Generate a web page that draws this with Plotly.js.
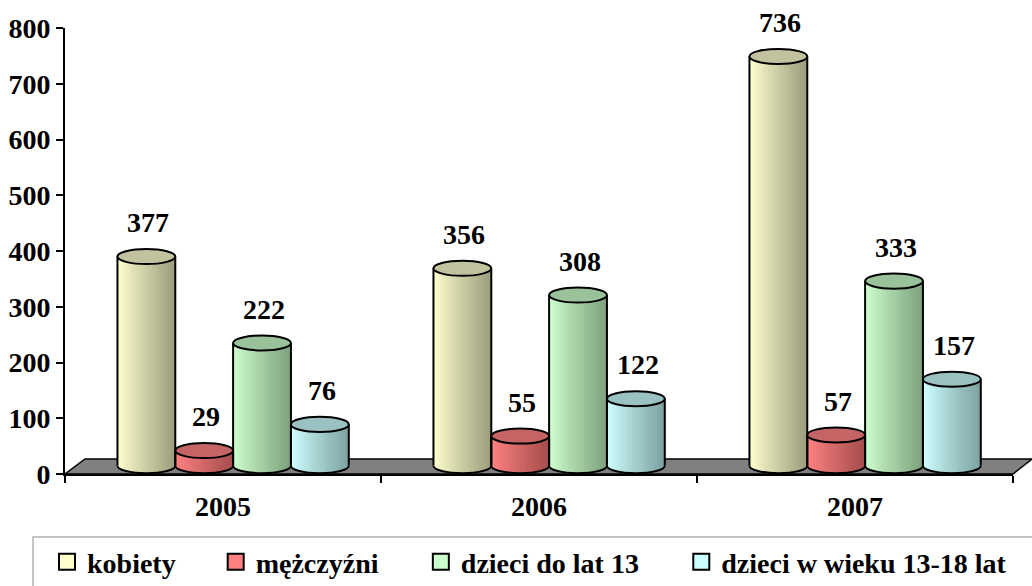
<!DOCTYPE html>
<html><head><meta charset="utf-8">
<script src="https://cdn.plot.ly/plotly-3.0.1.min.js"></script>
<style>html,body{margin:0;padding:0;background:#fff}#chart{width:1032px;height:586px}</style>
</head><body><div id="chart"></div>
<script>
// ---- data ----
const categories = ['2005', '2006', '2007'];
const seriesNames = ['kobiety', 'mężczyźni', 'dzieci do lat 13', 'dzieci w wieku 13-18 lat'];
const kobiety = [377, 356, 736];
const mezczyzni = [29, 55, 57];
const dzieciDo13 = [222, 308, 333];
const dzieci1318 = [76, 122, 157];
const yTickVals = [0, 100, 200, 300, 400, 500, 600, 700, 800];

// ---- styling ----
const series = [kobiety, mezczyzni, dzieciDo13, dzieci1318];
const lightCol = [[255,255,206],[255,130,130],[206,255,206],[206,255,255]];
const darkCol  = [[160,160,128],[168,78,78],[128,164,128],[128,164,164]];
const topCol = ['#c2c29e', '#c46464', '#9ac29a', '#9ac2c2'];
const legendCol = ['#ffffcc', '#ff8080', '#ccffcc', '#ccffff'];
const FONT = 'Liberation Serif';
const W = 0.183, SHIFT = 0.032, N = 18, B = 15, TOP_OFF = 13, H = 13.5, K = 0.5523;
const NB = '\u00a0';
const PLOT_W = 948, PLOT_H = 446, ML = 65, Y0PX = 474;

function mix(a, b, t) {
  return 'rgb(' + a.map((v, i) => Math.round(v + (b[i] - v) * t)).join(',') + ')';
}
function xc(i, j) { return i + SHIFT + (j - 1.5) * W; }
const px2paperX = p => (p - ML) / PLOT_W;
const px2paperY = p => (Y0PX - p) / PLOT_H;

const traces = [];
const shapes = [];
const annotations = [];

// floor (decoration, paper coords)
const fy = 15 / PLOT_H, dxl = 20 / PLOT_W, dxr = 19 / PLOT_W;
shapes.push({type: 'path', xref: 'paper', yref: 'paper', layer: 'below',
  path: `M0,0 L1,0 L${1 + dxr},${fy} L${dxl},${fy} Z`,
  fillcolor: '#808080', line: {color: 'black', width: 1.5}});

// legend frame (decoration)
shapes.push({type: 'rect', xref: 'paper', yref: 'paper', layer: 'below',
  x0: px2paperX(33), x1: px2paperX(1045), y0: px2paperY(537), y1: px2paperY(600),
  fillcolor: 'white', line: {color: '#c4c4c4', width: 2}});

series.forEach((vals, j) => {
  for (let k = 0; k < N; k++) {
    const t = k / (N - 1);
    const xs = [], ys = [], bases = [];
    vals.forEach((v, i) => {
      const c = xc(i, j);
      const x = c - W / 2 + (k + 0.5) * W / N;
      const u = Math.min(1, Math.abs(x - c) / (W / 2));
      const base = B - H * Math.sqrt(1 - u * u);
      xs.push(x); bases.push(base); ys.push(v + TOP_OFF - base);
    });
    traces.push({type: 'bar', x: xs, y: ys, base: bases, width: W / N * 1.3,
      marker: {color: mix(lightCol[j], darkCol[j], Math.pow(t, 0.9)), line: {width: 0}},
      showlegend: false, hoverinfo: 'skip'});
  }
  vals.forEach((v, i) => {
    const c = xc(i, j), xl = c - W / 2, xr = c + W / 2, T = v + TOP_OFF;
    const rx = W / 2;
    shapes.push({type: 'line', xref: 'x', yref: 'y', x0: xl, x1: xl, y0: B, y1: T, line: {color: 'black', width: 2}});
    shapes.push({type: 'line', xref: 'x', yref: 'y', x0: xr, x1: xr, y0: B, y1: T, line: {color: 'black', width: 2}});
    shapes.push({type: 'path', xref: 'x', yref: 'y',
      path: `M${xl},${B} C${xl},${B - K * H} ${c - K * rx},${B - H} ${c},${B - H} C${c + K * rx},${B - H} ${xr},${B - K * H} ${xr},${B}`,
      fillcolor: 'rgba(0,0,0,0)', line: {color: 'black', width: 2}});
    shapes.push({type: 'circle', xref: 'x', yref: 'y', x0: xl, x1: xr, y0: T - H, y1: T + H,
      fillcolor: topCol[j], line: {color: 'black', width: 2}});
    annotations.push({x: c, y: v, xref: 'x', yref: 'y', yshift: 41, xshift: 2, showarrow: false,
      text: String(v), yanchor: 'middle', xanchor: 'center',
      font: {family: FONT, size: 28, color: 'black', weight: 'bold'}});
  });
});

// legend entries
const pads = [NB.repeat(5), NB.repeat(5) + '\u200a', NB.repeat(5) + '\u200a', ''];
seriesNames.forEach((nm, j) => {
  traces.push({type: 'scatter', mode: 'markers', x: [null], y: [null], name: nm + pads[j],
    marker: {symbol: 'square', size: 16, color: legendCol[j], line: {color: 'black', width: 2}},
    showlegend: true, hoverinfo: 'skip'});
});

categories.forEach((cat, i) => {
  annotations.push({x: i, y: 0, xref: 'x', yref: 'paper', yshift: -32, showarrow: false,
    text: cat, yanchor: 'middle', xanchor: 'center',
    font: {family: FONT, size: 28, color: 'black', weight: 'bold'}});
});

const layout = {
  width: 1032, height: 586,
  margin: {l: ML, r: 1032 - ML - PLOT_W, t: 28, b: 586 - 28 - PLOT_H, autoexpand: false},
  paper_bgcolor: 'white', plot_bgcolor: 'rgba(0,0,0,0)',
  barmode: 'overlay',
  showlegend: true,
  xaxis: {type: 'linear', range: [-0.5, 2.5], showgrid: false, zeroline: false,
    showline: true, linecolor: 'black', linewidth: 2,
    tickmode: 'array', tickvals: [-0.5, 0.5, 1.5, 2.5], ticktext: ['', '', '', ''],
    ticks: 'outside', ticklen: 7, tickwidth: 2, tickcolor: 'black', showticklabels: false, fixedrange: true},
  yaxis: {range: [0, 800], showgrid: false, zeroline: false,
    showline: true, linecolor: 'black', linewidth: 2,
    tickmode: 'array', tickvals: yTickVals, ticktext: yTickVals.map(String),
    ticks: 'outside', ticklen: 7, tickwidth: 2, tickcolor: 'black',
    tickfont: {family: FONT, size: 28, color: 'black', weight: 'bold'}, fixedrange: true},
  legend: {orientation: 'h', x: px2paperX(47), xanchor: 'left', y: px2paperY(537), yanchor: 'top',
    font: {family: FONT, size: 28, color: 'black', weight: 'bold'},
    borderwidth: 0, bgcolor: 'rgba(0,0,0,0)', itemwidth: 30},
  shapes: shapes,
  annotations: annotations
};

Plotly.newPlot('chart', traces, layout, {displayModeBar: false, staticPlot: true});
</script>
</body></html>
